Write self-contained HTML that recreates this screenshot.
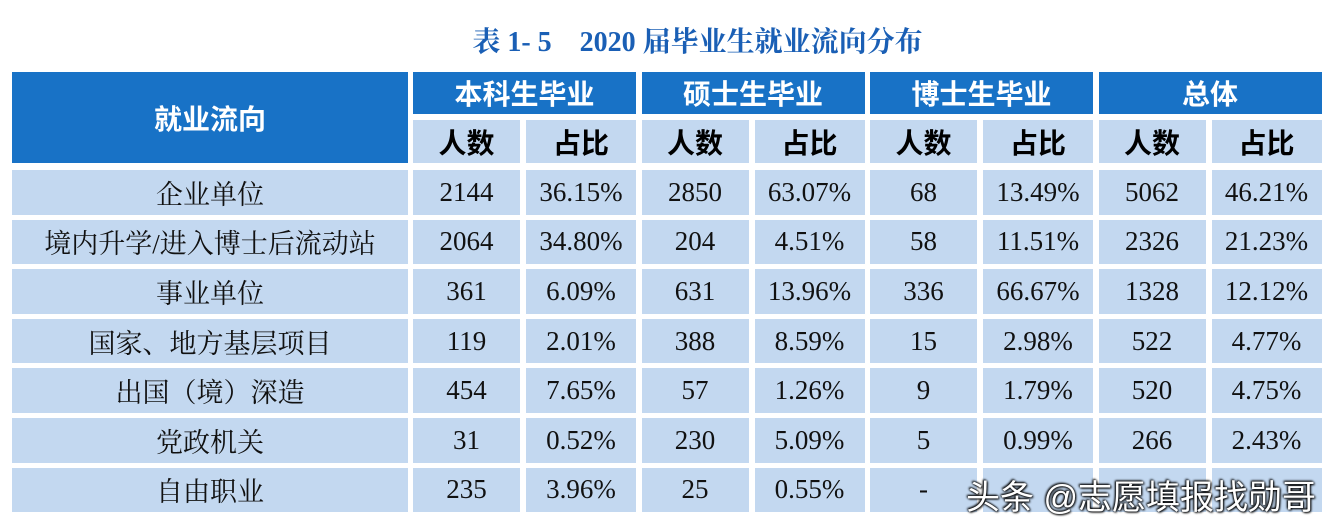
<!DOCTYPE html>
<html><head><meta charset="utf-8"><style>
body{margin:0;width:1330px;height:526px;background:#fff;position:relative;overflow:hidden;font-family:"Liberation Serif","Noto Serif CJK SC",serif}
.c{position:absolute;display:flex;align-items:center;justify-content:center;box-sizing:border-box}
.h{background:#1872c6;color:#fff;font-family:"Liberation Sans","Noto Sans CJK SC",sans-serif;font-weight:bold;font-size:28px}
.s{background:#c3d8f0;color:#000;font-family:"Liberation Sans","Noto Sans CJK SC",sans-serif;font-weight:bold;font-size:28px}
.d{background:#c3d8f0;color:#111;font-size:27px}
.t{position:absolute;top:20px;left:0;width:1395px;text-align:center;color:#1a5fb5;font-weight:bold;font-size:28px;font-family:"Liberation Serif","Noto Serif CJK SC",serif}
.w{position:absolute;left:966px;top:470px;font-size:34px;color:#fff;font-family:"Liberation Sans","Noto Sans CJK SC",sans-serif;text-shadow:0 0 2px #000,1px 1px 2px #000,-1px -1px 2px #000}
</style></head><body>
<div class="t">表 1- 5&nbsp;&nbsp;&nbsp; 2020 届毕业生就业流向分布</div>
<div id="g"></div>
<div class="w">头条 @志愿填报找勋哥</div>
<script>
const g=document.getElementById('g');
function cell(x,y,w,h,cls,t){const e=document.createElement('div');e.className='c '+cls;e.style.cssText=`left:${x}px;top:${y}px;width:${w}px;height:${h}px`;e.textContent=t;g.appendChild(e);}
cell(12,72,396,91,'h','就业流向');
const gs=['本科生毕业','硕士生毕业','博士生毕业','总体'];
const cols=[];
for(let i=0;i<4;i++){const x=413+i*228.5;cell(x,72,223,42,'h',gs[i]);
cell(x,120,107,43,'s','人数');cell(x+113,120,110,43,'s','占比');cols.push([x,107],[x+113,110]);}
const rows=[['企业单位','2144','36.15%','2850','63.07%','68','13.49%','5062','46.21%'],
['境内升学/进入博士后流动站','2064','34.80%','204','4.51%','58','11.51%','2326','21.23%'],
['事业单位','361','6.09%','631','13.96%','336','66.67%','1328','12.12%'],
['国家、地方基层项目','119','2.01%','388','8.59%','15','2.98%','522','4.77%'],
['出国（境）深造','454','7.65%','57','1.26%','9','1.79%','520','4.75%'],
['党政机关','31','0.52%','230','5.09%','5','0.99%','266','2.43%'],
['自由职业','235','3.96%','25','0.55%','-','','','']];
rows.forEach((r,i)=>{const y=170+i*49.6;cell(12,y,396,44.5,'d',r[0]);
cols.forEach((c,j)=>cell(c[0],y,c[1],44.5,'d',r[j+1]));});
</script>
</body></html>
